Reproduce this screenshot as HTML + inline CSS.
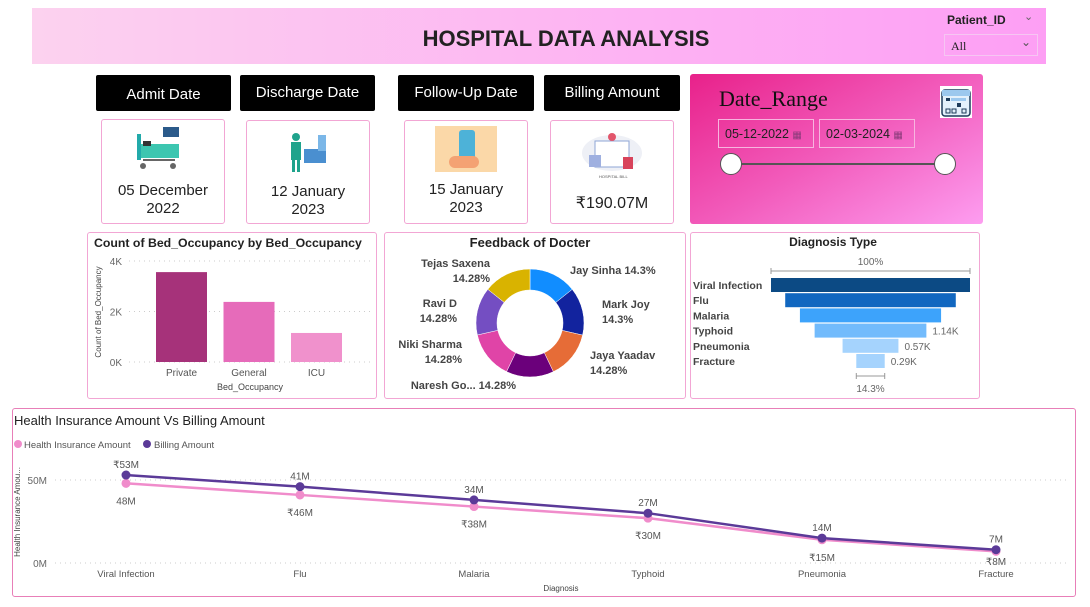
<!DOCTYPE html>
<html><head><meta charset="utf-8">
<style>
body{margin:0;width:1090px;height:607px;background:#fff;position:relative;overflow:hidden;font-family:"Liberation Sans",sans-serif;}
.a{position:absolute;box-sizing:border-box;}
.btn{background:#000;color:#fff;font-size:15px;text-align:center;line-height:36px;border-radius:2px;}
.card{border:1px solid #f2a6d4;border-radius:3px;background:#fff;text-align:center;font-size:15px;color:#222;}
.panel{border:1px solid #f2a6d4;border-radius:3px;background:#fff;}
svg text{font-family:"Liberation Sans",sans-serif;}
.din{white-space:nowrap;border:1px solid #f7b5df;font-size:12.5px;color:#222;padding:7px 6px;}
</style></head><body>
<div class="a" style="left:32px;top:8px;width:1014px;height:56px;background:linear-gradient(90deg,#fcd2ef,#fdb2f3 60%,#fd9ff4);"></div>
<div class="a" style="left:380px;top:26px;width:372px;text-align:center;font-weight:bold;font-size:22px;color:#222;">HOSPITAL DATA ANALYSIS</div>
<div class="a" style="left:947px;top:13px;font-size:12px;font-weight:bold;color:#222;">Patient_ID</div>
<div class="a" style="left:1024px;top:10px;font-size:11px;color:#666;">&#8964;</div>
<div class="a" style="left:944px;top:34px;width:94px;height:22px;border:1px solid #f6c6f2;font-family:'Liberation Serif',serif;font-size:12px;padding:4px 6px;color:#222;">All<span style="position:absolute;right:6px;top:0;color:#555;">&#8964;</span></div>

<div class="a btn" style="left:96px;top:75px;width:135px;height:36px;line-height:40px;">Admit Date</div>
<div class="a btn" style="left:240px;top:75px;width:135px;height:36px;">Discharge Date</div>
<div class="a btn" style="left:398px;top:75px;width:136px;height:36px;">Follow-Up Date</div>
<div class="a btn" style="left:544px;top:75px;width:136px;height:36px;">Billing Amount</div>

<div class="a card" style="left:101px;top:119px;width:124px;height:105px;">
<svg width="60" height="50" style="margin-top:4px"><rect x="6" y="20" width="40" height="14" fill="#3cc6b0"/><rect x="4" y="10" width="4" height="26" fill="#2aa"/><rect x="30" y="3" width="16" height="10" fill="#2b5a8a"/><line x1="10" y1="36" x2="42" y2="36" stroke="#666" stroke-width="2"/><circle cx="10" cy="42" r="3" fill="#666"/><circle cx="40" cy="42" r="3" fill="#666"/><rect x="10" y="17" width="8" height="5" fill="#333"/></svg>
<div style="margin-top:4px;line-height:18px;">05 December<br>2022</div></div>
<div class="a card" style="left:246px;top:120px;width:124px;height:104px;">
<svg width="60" height="50" style="margin-top:6px"><circle cx="18" cy="10" r="4" fill="#1fa38c"/><rect x="13" y="15" width="10" height="18" fill="#1fa38c"/><rect x="14" y="33" width="3" height="12" fill="#1fa38c"/><rect x="19" y="33" width="3" height="12" fill="#1fa38c"/><rect x="26" y="22" width="22" height="14" fill="#4a8fd0"/><rect x="40" y="8" width="8" height="16" fill="#7bb7e8"/></svg>
<div style="margin-top:2px;line-height:18px;">12 January<br>2023</div></div>
<div class="a card" style="left:404px;top:120px;width:124px;height:104px;">
<div style="margin:5px auto 0;width:62px;height:46px;background:#fbd8a8;position:relative;"><div style="position:absolute;left:24px;top:4px;width:16px;height:34px;background:#4db2d8;border-radius:3px;"></div><div style="position:absolute;left:14px;top:30px;width:30px;height:12px;background:#f4a273;border-radius:6px;"></div></div>
<div style="margin-top:9px;line-height:18px;">15 January<br>2023</div></div>
<div class="a card" style="left:550px;top:120px;width:124px;height:104px;">
<svg width="70" height="56" style="margin-top:6px"><ellipse cx="35" cy="26" rx="30" ry="18" fill="#eef0f6"/><rect x="18" y="14" width="34" height="26" fill="#fff" stroke="#8fa6d6"/><circle cx="35" cy="10" r="4" fill="#e2556b"/><rect x="46" y="30" width="10" height="12" fill="#d8435b"/><rect x="12" y="28" width="12" height="12" fill="#9fb0e0"/><text x="22" y="51" font-size="4" fill="#555">HOSPITAL BILL</text></svg>
<div style="margin-top:6px;font-size:16px;">₹190.07M</div></div>

<div class="a" style="left:690px;top:74px;width:293px;height:150px;border-radius:3px;background:linear-gradient(150deg,#e8218a,#f25bbb 50%,#fd9df0);"></div>
<div class="a" style="left:719px;top:86px;font-family:'Liberation Serif',serif;font-size:22px;color:#111;">Date_Range</div>
<div class="a" style="left:940px;top:86px;width:32px;height:32px;background:#fff;">
<svg width="32" height="32"><rect x="2" y="4" width="28" height="26" rx="3" fill="#e3f0fb" stroke="#1d3a5a" stroke-width="1.5"/><rect x="2" y="4" width="28" height="6" fill="#9cc8ee"/><rect x="6" y="12" width="4" height="3" fill="#1d3a5a"/><rect x="11" y="12" width="15" height="3" fill="#9cc8ee"/><rect x="17" y="17" width="4" height="4" fill="#1d3a5a"/><rect x="6" y="23" width="4" height="4" fill="none" stroke="#1d3a5a"/><rect x="12" y="23" width="4" height="4" fill="none" stroke="#1d3a5a"/><rect x="22" y="23" width="4" height="4" fill="none" stroke="#1d3a5a"/></svg></div>
<div class="a din" style="left:718px;top:119px;width:96px;height:29px;">05-12-2022 <span style="color:#8a3b7a;font-size:10px;">▦</span></div>
<div class="a din" style="left:819px;top:119px;width:96px;height:29px;">02-03-2024 <span style="color:#8a3b7a;font-size:10px;">▦</span></div>
<div class="a" style="left:731px;top:163px;width:214px;height:2px;background:#555;"></div>
<div class="a" style="left:720px;top:153px;width:22px;height:22px;border-radius:50%;background:#fff;border:1.5px solid #555;"></div>
<div class="a" style="left:934px;top:153px;width:22px;height:22px;border-radius:50%;background:#fff;border:1.5px solid #555;"></div>

<div class="a panel" style="left:87px;top:232px;width:290px;height:167px;"></div>
<div class="a panel" style="left:384px;top:232px;width:302px;height:167px;"></div>
<div class="a panel" style="left:690px;top:232px;width:290px;height:167px;"></div>
<div class="a panel" style="left:12px;top:408px;width:1064px;height:189px;border-color:#e87fb8;"></div>

<svg class="a" id="charts" style="left:0;top:0" width="1090" height="607"></svg>

<script>
const bedCats=["Private","General","ICU"];
const bedVals=[3560,2380,1150];
const bedTicks=[0,2000,4000];
const bedTickLabels=["0K","2K","4K"];
const docNames=["Jay Sinha 14.3%","Mark Joy|14.3%","Jaya Yaadav|14.28%","Naresh Go... 14.28%","Niki Sharma|14.28%","Ravi D|14.28%","Tejas Saxena|14.28%"];
const docVals=[14.3,14.3,14.28,14.28,14.28,14.28,14.28];
const diagCats=["Viral Infection","Flu","Malaria","Typhoid","Pneumonia","Fracture"];
const diagVals=[2030,1740,1440,1140,570,290];
const diagLabels=["","","","1.14K","0.57K","0.29K"];
const lineCats=["Viral Infection","Flu","Malaria","Typhoid","Pneumonia","Fracture"];
const insVals=[48,41,34,27,14,7];
const billVals=[53,46,38,30,15,8];
const lineTicks=[0,50];

const NS="http://www.w3.org/2000/svg";
const svg=document.getElementById('charts');
function mk(tag,attrs,txt){const e=document.createElementNS(NS,tag);for(const k in attrs)e.setAttribute(k,attrs[k]);if(txt!==undefined)e.textContent=txt;svg.appendChild(e);return e;}

// ---- Bar chart
let t=mk('text',{x:94,y:247,'font-size':12.3,'font-weight':'bold',fill:'#222'},'Count of Bed_Occupancy by Bed_Occupancy');

const by=v=>362-v/4000*101;
bedTicks.forEach((v,i)=>{
 let g=mk('line',{x1:129,x2:372,y1:by(v),y2:by(v),stroke:'#ccc','stroke-dasharray':'1 4'});
 
 let l=mk('text',{x:122,y:by(v)+4,'font-size':10,fill:'#666','text-anchor':'end'},bedTickLabels[i]);
 
});
const bedColors=["#a6327a","#e66bba","#f091cc"];
bedCats.forEach((c,i)=>{
 const x=156+i*67.5;
 let r=mk('rect',{x:x,y:by(bedVals[i]),width:51,height:362-by(bedVals[i]),fill:bedColors[i]});
 
 let l=mk('text',{x:x+25.5,y:376,'font-size':10,fill:'#555','text-anchor':'middle'},c);
 
});
t=mk('text',{x:250,y:390,'font-size':9,fill:'#444','text-anchor':'middle'},'Bed_Occupancy');

t=mk('text',{x:0,y:0,'font-size':8,fill:'#444','text-anchor':'middle',transform:'translate(101,312) rotate(-90)'},'Count of Bed_Occupancy');


// ---- Donut
t=mk('text',{x:530,y:247,'font-size':13,'font-weight':'bold',fill:'#222','text-anchor':'middle'},'Feedback of Docter');

const cx=530,cy=323,R=54,r0=33;
const docColors=["#118dff","#12239e","#e66c37","#6b007b","#e044a7","#744ec2","#d9b300"];
const tot=docVals.reduce((a,b)=>a+b,0);
let ang=0;
const labelPos=[[570,274,'start'],[602,308,'start'],[590,359,'start'],[516,389,'end'],[462,348,'end'],[457,307,'end'],[490,267,'end']];
docVals.forEach((v,i)=>{
 const a0=ang,a1=ang+v/tot*2*Math.PI;ang=a1;
 const p=(a,rr)=>[cx+rr*Math.sin(a),cy-rr*Math.cos(a)];
 const [x0,y0]=p(a0,R),[x1,y1]=p(a1,R),[x2,y2]=p(a1,r0),[x3,y3]=p(a0,r0);
 const lg=(a1-a0)>Math.PI?1:0;
 let s=mk('path',{d:`M${x0},${y0}A${R},${R} 0 ${lg} 1 ${x1},${y1}L${x2},${y2}A${r0},${r0} 0 ${lg} 0 ${x3},${y3}Z`,fill:docColors[i],stroke:'#fff','stroke-width':0.5});
 
 const parts=docNames[i].split('|');const lp=labelPos[i];
 parts.forEach((pt,j)=>{
  let l=mk('text',{x:lp[0],y:lp[1]+j*15,'font-size':11,'font-weight':'bold',fill:'#444','text-anchor':lp[2]},pt);
  
 });
});

// ---- Funnel
t=mk('text',{x:833,y:246,'font-size':12,'font-weight':'bold',fill:'#222','text-anchor':'middle'},'Diagnosis Type');

const fc=870.5,fw=199;
const fColors=["#0c4a84","#1167c0","#3da3fb","#72bbfc","#a5d3fd","#a5d3fd"];
const fwid=v=>v/diagVals[0]*fw;
mk('line',{x1:fc-fw/2,x2:fc+fw/2,y1:271,y2:271,stroke:'#999'});
mk('line',{x1:fc-fw/2,x2:fc-fw/2,y1:268,y2:274,stroke:'#999'});
mk('line',{x1:fc+fw/2,x2:fc+fw/2,y1:268,y2:274,stroke:'#999'});
t=mk('text',{x:fc,y:265,'font-size':10,fill:'#666','text-anchor':'middle'},'100%');

diagVals.forEach((v,i)=>{
 const w=fwid(v),y=278+i*15.2;
 let r=mk('rect',{x:fc-w/2,y:y,width:w,height:14,fill:fColors[i]});
 
 let l=mk('text',{x:693,y:y+11,'font-size':10.5,'font-weight':'bold',fill:'#444'},diagCats[i]);
 
 if(diagLabels[i]){let d=mk('text',{x:fc+w/2+6,y:y+11,'font-size':10,fill:'#666'},diagLabels[i]);
 }
});
const lw=fwid(diagVals[5]);
mk('line',{x1:fc-lw/2,x2:fc+lw/2,y1:376,y2:376,stroke:'#999'});
mk('line',{x1:fc-lw/2,x2:fc-lw/2,y1:373,y2:379,stroke:'#999'});
mk('line',{x1:fc+lw/2,x2:fc+lw/2,y1:373,y2:379,stroke:'#999'});
t=mk('text',{x:fc,y:392,'font-size':10,fill:'#666','text-anchor':'middle'},(diagVals[5]/diagVals[0]*100).toFixed(1)+'%');


// ---- Line chart
t=mk('text',{x:14,y:425,'font-size':13,fill:'#222'},'Health Insurance Amount Vs Billing Amount');

mk('circle',{cx:18,cy:444,r:4,fill:'#f08ccb'});
t=mk('text',{x:24,y:448,'font-size':9.5,fill:'#555'},'Health Insurance Amount');

mk('circle',{cx:147,cy:444,r:4,fill:'#5b3a98'});
t=mk('text',{x:154,y:448,'font-size':9.5,fill:'#555'},'Billing Amount');

const ly=v=>563-v/50*83;
const lx=i=>126+i*174;
lineTicks.forEach(v=>{
 let g=mk('line',{x1:55,x2:1070,y1:ly(v),y2:ly(v),stroke:'#ccc','stroke-dasharray':'1 4'});
 
 let l=mk('text',{x:47,y:ly(v)+4,'font-size':10,fill:'#666','text-anchor':'end'},v+'M');
 
});
t=mk('text',{x:0,y:0,'font-size':8,fill:'#444','text-anchor':'middle',transform:'translate(20,512) rotate(-90)'},'Health Insurance Amou...');

t=mk('text',{x:561,y:591,'font-size':8,fill:'#444','text-anchor':'middle'},'Diagnosis');

let p1=mk('polyline',{points:insVals.map((v,i)=>lx(i)+','+ly(v)).join(' '),fill:'none',stroke:'#f08ccb','stroke-width':2.5});

let p2=mk('polyline',{points:billVals.map((v,i)=>lx(i)+','+ly(v)).join(' '),fill:'none',stroke:'#5b3a98','stroke-width':2.5});

lineCats.forEach((c,i)=>{
 let a=mk('circle',{cx:lx(i),cy:ly(insVals[i]),r:4.5,fill:'#f08ccb'});
 
 let b=mk('circle',{cx:lx(i),cy:ly(billVals[i]),r:4.5,fill:'#5b3a98'});
 
 let top,bot;
 if(i==0){top='₹'+billVals[i]+'M';bot=insVals[i]+'M';}else{top=insVals[i]+'M';bot='₹'+billVals[i]+'M';}
 let l1=mk('text',{x:lx(i),y:ly(billVals[i])-7,'font-size':10,fill:'#555','text-anchor':'middle'},top);
 
 let l2=mk('text',{x:lx(i),y:Math.min(ly(insVals[i])+21,565),'font-size':10,fill:'#555','text-anchor':'middle'},bot);
 
 let xl=mk('text',{x:lx(i),y:577,'font-size':9.5,fill:'#555','text-anchor':'middle'},c);
 
});
</script>
</body></html>
